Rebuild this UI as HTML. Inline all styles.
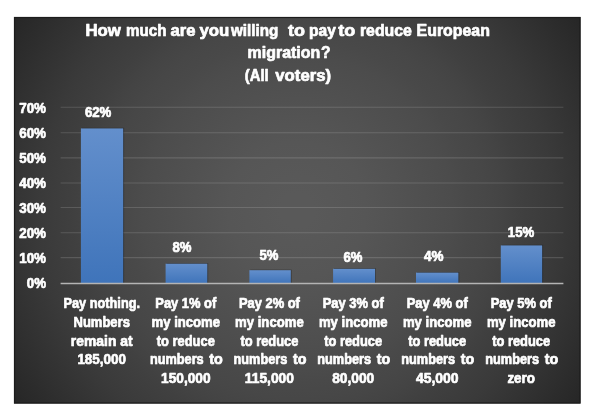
<!DOCTYPE html>
<html><head><meta charset="utf-8"><title>Chart</title>
<style>
html,body{margin:0;padding:0;background:#fff;}
body{width:600px;height:418px;overflow:hidden;font-family:"Liberation Sans", sans-serif;}
svg{display:block;position:absolute;left:0;top:0}
svg.tx{will-change:transform;filter:blur(0.3px)}
text{font-family:"Liberation Sans", sans-serif;font-weight:bold;fill:#fff;stroke:#fff;stroke-width:0.7px;stroke-linejoin:round;}
</style></head><body>
<svg width="600" height="418" viewBox="0 0 600 418">
<defs>
<radialGradient id="bg" gradientUnits="userSpaceOnUse" cx="297.25" cy="210.25" r="342.9">
<stop offset="0.00" stop-color="#595959"/>
<stop offset="0.05" stop-color="#595959"/>
<stop offset="0.10" stop-color="#585858"/>
<stop offset="0.15" stop-color="#575757"/>
<stop offset="0.20" stop-color="#565656"/>
<stop offset="0.25" stop-color="#545454"/>
<stop offset="0.30" stop-color="#525252"/>
<stop offset="0.35" stop-color="#505050"/>
<stop offset="0.40" stop-color="#4e4e4e"/>
<stop offset="0.45" stop-color="#4c4c4c"/>
<stop offset="0.50" stop-color="#494949"/>
<stop offset="0.55" stop-color="#474747"/>
<stop offset="0.60" stop-color="#444444"/>
<stop offset="0.65" stop-color="#404040"/>
<stop offset="0.70" stop-color="#3d3d3d"/>
<stop offset="0.75" stop-color="#3a3a3a"/>
<stop offset="0.80" stop-color="#363636"/>
<stop offset="0.85" stop-color="#323232"/>
<stop offset="0.90" stop-color="#2e2e2e"/>
<stop offset="0.95" stop-color="#2a2a2a"/>
<stop offset="1.00" stop-color="#262626"/>
</radialGradient>
<linearGradient id="bar" x1="0" y1="0" x2="0" y2="1">
<stop offset="0" stop-color="#638fcc"/>
<stop offset="1" stop-color="#3f74ba"/>
</linearGradient>
</defs>
<rect x="0" y="0" width="600" height="418" fill="#ffffff"/>
<rect x="14" y="17" width="566.5" height="386.5" fill="url(#bg)"/>
<rect x="14.5" y="17.5" width="565.5" height="385.5" fill="none" stroke="#1c1c1c" stroke-width="1.2"/>

<line x1="60.6" x2="563.4" y1="257.6" y2="257.6" stroke="#ffffff" stroke-opacity="0.14" stroke-width="1.1"/>
<line x1="60.6" x2="563.4" y1="232.8" y2="232.8" stroke="#ffffff" stroke-opacity="0.14" stroke-width="1.1"/>
<line x1="60.6" x2="563.4" y1="207.5" y2="207.5" stroke="#ffffff" stroke-opacity="0.14" stroke-width="1.1"/>
<line x1="60.6" x2="563.4" y1="183.0" y2="183.0" stroke="#ffffff" stroke-opacity="0.14" stroke-width="1.1"/>
<line x1="60.6" x2="563.4" y1="157.9" y2="157.9" stroke="#ffffff" stroke-opacity="0.14" stroke-width="1.1"/>
<line x1="60.6" x2="563.4" y1="132.8" y2="132.8" stroke="#ffffff" stroke-opacity="0.14" stroke-width="1.1"/>
<line x1="60.6" x2="563.4" y1="107.3" y2="107.3" stroke="#ffffff" stroke-opacity="0.14" stroke-width="1.1"/>
<rect x="81.80000000000001" y="127.8" width="42.3" height="155.7" fill="#000" opacity="0.3"/>
<rect x="80.9" y="128.4" width="42.3" height="155.1" fill="url(#bar)"/>
<rect x="166.5" y="263.1" width="41.7" height="20.4" fill="#000" opacity="0.3"/>
<rect x="165.6" y="263.7" width="41.7" height="19.8" fill="url(#bar)"/>
<rect x="250.3" y="269.6" width="41.4" height="13.9" fill="#000" opacity="0.3"/>
<rect x="249.4" y="270.2" width="41.4" height="13.3" fill="url(#bar)"/>
<rect x="334.0" y="268.2" width="42.0" height="15.3" fill="#000" opacity="0.3"/>
<rect x="333.1" y="268.8" width="42.0" height="14.7" fill="url(#bar)"/>
<rect x="416.9" y="272.0" width="42.4" height="11.5" fill="#000" opacity="0.3"/>
<rect x="416" y="272.6" width="42.4" height="10.9" fill="url(#bar)"/>
<rect x="501.7" y="244.8" width="41.4" height="38.7" fill="#000" opacity="0.3"/>
<rect x="500.8" y="245.4" width="41.4" height="38.1" fill="url(#bar)"/>
<line x1="60.6" x2="563.4" y1="283.5" y2="283.5" stroke="#b4b4b4" stroke-width="1.6"/>
</svg>
<svg class="tx" width="600" height="418" viewBox="0 0 600 418">
<text x="85.4" y="36.2" font-size="16.2" textLength="35.5" lengthAdjust="spacingAndGlyphs">How</text>
<text x="126.0" y="36.2" font-size="16.2" textLength="40.4" lengthAdjust="spacingAndGlyphs">much</text>
<text x="170.4" y="36.2" font-size="16.2" textLength="25.0" lengthAdjust="spacingAndGlyphs">are</text>
<text x="199.5" y="36.2" font-size="16.2" textLength="29.9" lengthAdjust="spacingAndGlyphs">you</text>
<text x="231.0" y="36.2" font-size="16.2" textLength="47.4" lengthAdjust="spacingAndGlyphs">willing</text>
<text x="288.1" y="36.2" font-size="16.2" textLength="17.0" lengthAdjust="spacingAndGlyphs">to</text>
<text x="309.1" y="36.2" font-size="16.2" textLength="26.8" lengthAdjust="spacingAndGlyphs">pay</text>
<text x="338.2" y="36.2" font-size="16.2" textLength="17.0" lengthAdjust="spacingAndGlyphs">to</text>
<text x="359.9" y="36.2" font-size="16.2" textLength="52.0" lengthAdjust="spacingAndGlyphs">reduce</text>
<text x="416.6" y="36.2" font-size="16.2" textLength="73.3" lengthAdjust="spacingAndGlyphs">European</text>
<text x="247.6" y="58.1" font-size="16.2" textLength="72.7" lengthAdjust="spacingAndGlyphs">migration</text>
<text x="321.1" y="58.1" font-size="16.2" textLength="9.5" lengthAdjust="spacingAndGlyphs">?</text>
<text x="244.8" y="80.6" font-size="16.2" textLength="23.8" lengthAdjust="spacingAndGlyphs">(All</text>
<text x="275.3" y="80.6" font-size="16.2" textLength="55.8" lengthAdjust="spacingAndGlyphs">voters)</text>
<text x="26.8" y="288.2" font-size="14" textLength="19.2" lengthAdjust="spacingAndGlyphs">0%</text>
<text x="19.2" y="263.2" font-size="14" textLength="26.8" lengthAdjust="spacingAndGlyphs">10%</text>
<text x="19.2" y="238.2" font-size="14" textLength="26.8" lengthAdjust="spacingAndGlyphs">20%</text>
<text x="19.2" y="213.2" font-size="14" textLength="26.8" lengthAdjust="spacingAndGlyphs">30%</text>
<text x="19.2" y="188.2" font-size="14" textLength="26.8" lengthAdjust="spacingAndGlyphs">40%</text>
<text x="19.2" y="163.1" font-size="14" textLength="26.8" lengthAdjust="spacingAndGlyphs">50%</text>
<text x="19.2" y="138.1" font-size="14" textLength="26.8" lengthAdjust="spacingAndGlyphs">60%</text>
<text x="19.2" y="113.1" font-size="14" textLength="26.8" lengthAdjust="spacingAndGlyphs">70%</text>
<text x="84.9" y="116.8" font-size="14" textLength="26.4" lengthAdjust="spacingAndGlyphs">62%</text>
<text x="172.4" y="251.6" font-size="14" textLength="19.0" lengthAdjust="spacingAndGlyphs">8%</text>
<text x="259.6" y="260.3" font-size="14" textLength="18.9" lengthAdjust="spacingAndGlyphs">5%</text>
<text x="343.6" y="261.5" font-size="14" textLength="18.9" lengthAdjust="spacingAndGlyphs">6%</text>
<text x="424.0" y="261.3" font-size="14" textLength="19.5" lengthAdjust="spacingAndGlyphs">4%</text>
<text x="507.8" y="236.9" font-size="14" textLength="26.4" lengthAdjust="spacingAndGlyphs">15%</text>
<text x="63.5" y="307.7" font-size="14.5" textLength="76.5" lengthAdjust="spacingAndGlyphs">Pay nothing.</text>
<text x="73.5" y="326.5" font-size="14.5" textLength="56.4" lengthAdjust="spacingAndGlyphs">Numbers</text>
<text x="70.8" y="345.9" font-size="14.5" textLength="61.8" lengthAdjust="spacingAndGlyphs">remain at</text>
<text x="77.4" y="364.0" font-size="14.5" textLength="48.6" lengthAdjust="spacingAndGlyphs">185,000</text>
<text x="155.3" y="307.7" font-size="14.5" textLength="61.0" lengthAdjust="spacingAndGlyphs">Pay 1% of</text>
<text x="151.5" y="326.5" font-size="14.5" textLength="68.6" lengthAdjust="spacingAndGlyphs">my income</text>
<text x="156.8" y="345.9" font-size="14.5" textLength="58.0" lengthAdjust="spacingAndGlyphs">to reduce</text>
<text x="149.9" y="364.0" font-size="14.5" textLength="53.8" lengthAdjust="spacingAndGlyphs">numbers</text>
<text x="209.3" y="364.0" font-size="14.5" textLength="13.5" lengthAdjust="spacingAndGlyphs">to</text>
<text x="161.1" y="382.7" font-size="14.5" textLength="49.4" lengthAdjust="spacingAndGlyphs">150,000</text>
<text x="238.9" y="307.7" font-size="14.5" textLength="61.0" lengthAdjust="spacingAndGlyphs">Pay 2% of</text>
<text x="235.1" y="326.5" font-size="14.5" textLength="68.6" lengthAdjust="spacingAndGlyphs">my income</text>
<text x="240.4" y="345.9" font-size="14.5" textLength="58.0" lengthAdjust="spacingAndGlyphs">to reduce</text>
<text x="233.5" y="364.0" font-size="14.5" textLength="53.8" lengthAdjust="spacingAndGlyphs">numbers</text>
<text x="292.9" y="364.0" font-size="14.5" textLength="13.5" lengthAdjust="spacingAndGlyphs">to</text>
<text x="244.8" y="382.7" font-size="14.5" textLength="49.2" lengthAdjust="spacingAndGlyphs">115,000</text>
<text x="322.7" y="307.7" font-size="14.5" textLength="61.0" lengthAdjust="spacingAndGlyphs">Pay 3% of</text>
<text x="318.9" y="326.5" font-size="14.5" textLength="68.6" lengthAdjust="spacingAndGlyphs">my income</text>
<text x="324.2" y="345.9" font-size="14.5" textLength="58.0" lengthAdjust="spacingAndGlyphs">to reduce</text>
<text x="317.3" y="364.0" font-size="14.5" textLength="53.8" lengthAdjust="spacingAndGlyphs">numbers</text>
<text x="376.7" y="364.0" font-size="14.5" textLength="13.5" lengthAdjust="spacingAndGlyphs">to</text>
<text x="332.2" y="382.7" font-size="14.5" textLength="42.0" lengthAdjust="spacingAndGlyphs">80,000</text>
<text x="406.7" y="307.7" font-size="14.5" textLength="61.0" lengthAdjust="spacingAndGlyphs">Pay 4% of</text>
<text x="402.9" y="326.5" font-size="14.5" textLength="68.6" lengthAdjust="spacingAndGlyphs">my income</text>
<text x="408.2" y="345.9" font-size="14.5" textLength="58.0" lengthAdjust="spacingAndGlyphs">to reduce</text>
<text x="401.3" y="364.0" font-size="14.5" textLength="53.8" lengthAdjust="spacingAndGlyphs">numbers</text>
<text x="460.7" y="364.0" font-size="14.5" textLength="13.5" lengthAdjust="spacingAndGlyphs">to</text>
<text x="415.9" y="382.7" font-size="14.5" textLength="42.6" lengthAdjust="spacingAndGlyphs">45,000</text>
<text x="490.7" y="307.7" font-size="14.5" textLength="61.0" lengthAdjust="spacingAndGlyphs">Pay 5% of</text>
<text x="486.9" y="326.5" font-size="14.5" textLength="68.6" lengthAdjust="spacingAndGlyphs">my income</text>
<text x="492.2" y="345.9" font-size="14.5" textLength="58.0" lengthAdjust="spacingAndGlyphs">to reduce</text>
<text x="485.3" y="364.0" font-size="14.5" textLength="53.8" lengthAdjust="spacingAndGlyphs">numbers</text>
<text x="544.7" y="364.0" font-size="14.5" textLength="13.5" lengthAdjust="spacingAndGlyphs">to</text>
<text x="507.4" y="382.7" font-size="14.5" textLength="27.6" lengthAdjust="spacingAndGlyphs">zero</text>
</svg></body></html>
